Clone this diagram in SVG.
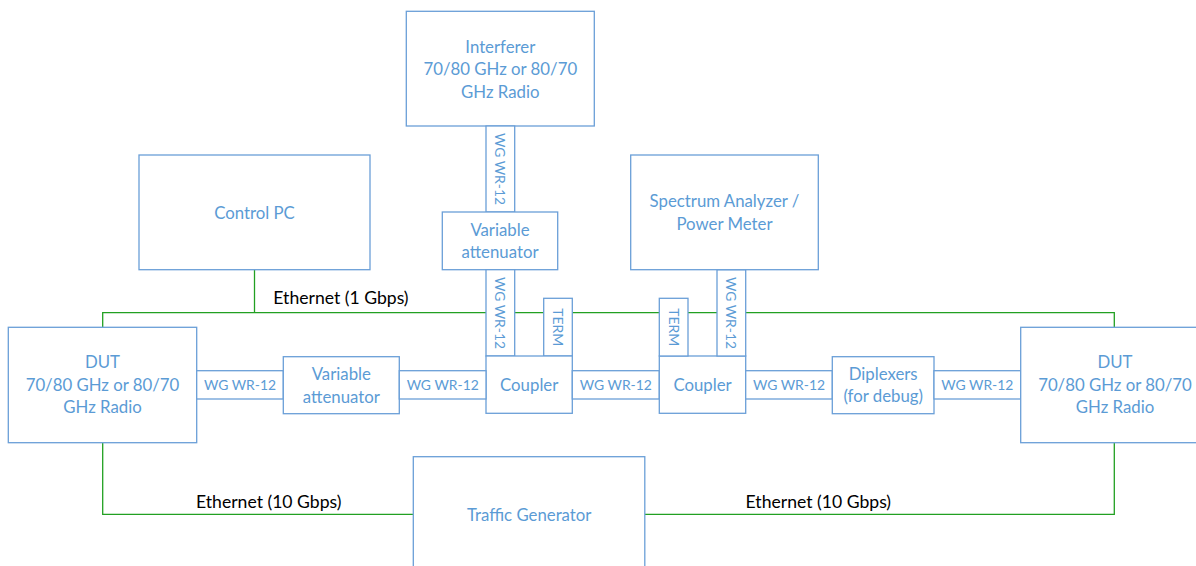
<svg xmlns="http://www.w3.org/2000/svg" width="1196" height="566" viewBox="0 0 1196 566">
  <style>
    .box { fill: #ffffff; stroke: #6a9fd8; stroke-width: 1.3; }
    .lbl { fill: #5b9bd5; font-family: Lato, "Liberation Sans", sans-serif; font-size: 16.8px; text-anchor: middle; }
    .wg { fill: #5b9bd5; font-family: Lato, "Liberation Sans", sans-serif; font-size: 13.9px; text-anchor: middle; }
    .eth { fill: none; stroke: #22a022; stroke-width: 1.3; }
    .ethlbl { fill: #000000; font-family: Lato, "Liberation Sans", sans-serif; font-size: 17.6px; }
  </style>
  <rect width="1196" height="566" fill="#ffffff"/>

  <!-- Ethernet links (drawn first so that waveguide boxes sit over them) -->
  <g id="connectors">
    <polyline class="eth" points="254.5,269.7 254.5,312.7"/>
    <polyline class="eth" points="102.7,327.3 102.7,312.7 1114.3,312.7 1114.3,327.3"/>
    <polyline class="eth" points="102.7,442.7 102.7,514.3 413.3,514.3"/>
    <polyline class="eth" points="1114.3,442.7 1114.3,514.3 644.8,514.3"/>
    <text class="ethlbl" x="273.3" y="304">Ethernet (1 Gbps)</text>
    <text class="ethlbl" x="196" y="508">Ethernet (10 Gbps)</text>
    <text class="ethlbl" x="745.6" y="508">Ethernet (10 Gbps)</text>
  </g>

  <g id="interferer">
    <rect class="box" x="406.3" y="11.3" width="188" height="114.7"/>
    <text class="lbl" x="500.3" y="52.7">Interferer</text>
    <text class="lbl" x="500.3" y="75.2">70/80 GHz or 80/70</text>
    <text class="lbl" x="500.3" y="97.7">GHz Radio</text>
  </g>

  <g id="wg-interferer">
    <rect class="box" x="486" y="126" width="28.7" height="86"/>
    <text class="wg" transform="translate(500.3,169) rotate(90)" y="5">WG WR-12</text>
  </g>

  <g id="atten-top">
    <rect class="box" x="442.3" y="212" width="115.4" height="57.7"/>
    <text class="lbl" x="500" y="235.5">Variable</text>
    <text class="lbl" x="500" y="258.3">attenuator</text>
  </g>

  <g id="wg-atten-coupler">
    <rect class="box" x="486" y="269.7" width="28.7" height="86.3"/>
    <text class="wg" transform="translate(500.3,313) rotate(90)" y="5">WG WR-12</text>
  </g>

  <g id="term-left">
    <rect class="box" x="543.7" y="298.3" width="28.6" height="57.7"/>
    <text class="wg" transform="translate(558,327.2) rotate(90)" y="5">TERM</text>
  </g>

  <g id="coupler-left">
    <rect class="box" x="486" y="356" width="86.3" height="57.3"/>
    <text class="lbl" x="529.2" y="391">Coupler</text>
  </g>

  <g id="wg-couplers">
    <rect class="box" x="572.3" y="370.7" width="87" height="28.3"/>
    <text class="wg" x="615.8" y="390">WG WR-12</text>
  </g>

  <g id="coupler-right">
    <rect class="box" x="659.3" y="356" width="86.4" height="57.3"/>
    <text class="lbl" x="702.5" y="391">Coupler</text>
  </g>

  <g id="term-right">
    <rect class="box" x="659.3" y="298.3" width="28.7" height="57.7"/>
    <text class="wg" transform="translate(673.6,327.2) rotate(90)" y="5">TERM</text>
  </g>

  <g id="wg-analyzer">
    <rect class="box" x="717" y="269.7" width="28.7" height="86.3"/>
    <text class="wg" transform="translate(731.3,313) rotate(90)" y="5">WG WR-12</text>
  </g>

  <g id="analyzer">
    <rect class="box" x="630.7" y="155" width="187.6" height="114.7"/>
    <text class="lbl" x="724.5" y="206.7">Spectrum Analyzer /</text>
    <text class="lbl" x="724.5" y="229.5">Power Meter</text>
  </g>

  <g id="control-pc">
    <rect class="box" x="139" y="155" width="231" height="114.7"/>
    <text class="lbl" x="254.5" y="219">Control PC</text>
  </g>

  <g id="dut-left">
    <rect class="box" x="8.3" y="327.3" width="188.4" height="115.4"/>
    <text class="lbl" x="102.5" y="367.7">DUT</text>
    <text class="lbl" x="102.5" y="390.7">70/80 GHz or 80/70</text>
    <text class="lbl" x="102.5" y="413.3">GHz Radio</text>
  </g>

  <g id="wg-dut-left">
    <rect class="box" x="196.7" y="370.7" width="86.6" height="28.3"/>
    <text class="wg" x="240" y="390">WG WR-12</text>
  </g>

  <g id="atten-mid">
    <rect class="box" x="283.3" y="356.7" width="116" height="57"/>
    <text class="lbl" x="341.3" y="380">Variable</text>
    <text class="lbl" x="341.3" y="402.7">attenuator</text>
  </g>

  <g id="wg-atten-coupler-h">
    <rect class="box" x="399.3" y="370.7" width="86.7" height="28.3"/>
    <text class="wg" x="442.7" y="390">WG WR-12</text>
  </g>

  <g id="wg-coupler-diplexer">
    <rect class="box" x="745.7" y="370.7" width="86.6" height="28.3"/>
    <text class="wg" x="789" y="390">WG WR-12</text>
  </g>

  <g id="diplexers">
    <rect class="box" x="832.3" y="356.7" width="101.7" height="57"/>
    <text class="lbl" x="883.2" y="380">Diplexers</text>
    <text class="lbl" x="883.2" y="402.3">(for debug)</text>
  </g>

  <g id="wg-diplexer-dut">
    <rect class="box" x="934" y="370.7" width="86.7" height="28.3"/>
    <text class="wg" x="977.3" y="390">WG WR-12</text>
  </g>

  <g id="dut-right">
    <rect class="box" x="1020.7" y="327.3" width="188.4" height="115.4"/>
    <text class="lbl" x="1115" y="367.7">DUT</text>
    <text class="lbl" x="1115" y="390.7">70/80 GHz or 80/70</text>
    <text class="lbl" x="1115" y="413.3">GHz Radio</text>
  </g>

  <g id="traffic-generator">
    <rect class="box" x="413.3" y="456.7" width="231.5" height="130"/>
    <text class="lbl" x="529.2" y="521">Traffic Generator</text>
  </g>
</svg>
